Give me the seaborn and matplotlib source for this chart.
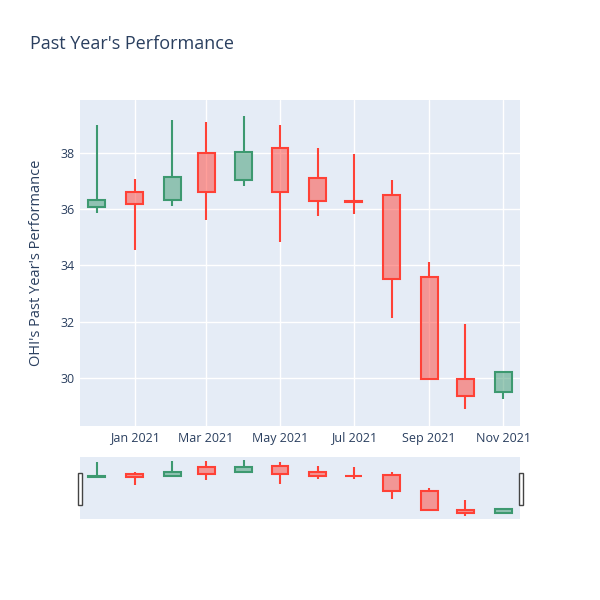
import pandas as pd
import numpy as np
import matplotlib
matplotlib.use("Agg")
import matplotlib.pyplot as plt
import matplotlib.dates as mdates
from matplotlib.patches import Rectangle
import seaborn as sns

# Datos mensuales (OHLC)
fechas = ["2020-12-01", "2021-01-01", "2021-02-01", "2021-03-01", "2021-04-01", "2021-05-01",
          "2021-06-01", "2021-07-01", "2021-08-01", "2021-09-01", "2021-10-01", "2021-11-01"]
apertura = [36.06, 36.62, 36.32, 37.98, 37.05, 38.16, 37.12, 36.30, 36.49, 33.58, 29.96, 29.49]
maximo = [38.99, 37.07, 39.17, 39.09, 39.31, 38.99, 38.18, 37.96, 37.03, 34.11, 31.91, 30.26]
minimo = [35.87, 34.56, 36.12, 35.61, 36.83, 34.82, 35.75, 35.81, 32.12, 29.93, 28.89, 29.25]
cierre = [36.32, 36.20, 37.13, 36.61, 38.02, 36.61, 36.29, 36.27, 33.51, 29.95, 29.34, 30.22]

df = pd.DataFrame({"fecha": pd.to_datetime(fechas), "open": apertura, "high": maximo,
                   "low": minimo, "close": cierre})

verde = "#3D9970"
rojo = "#FF4136"
texto = "#2a3f5f"

sns.set_theme(style="darkgrid", rc={"axes.facecolor": "#E5ECF6", "grid.color": "white",
                                     "grid.linewidth": 1.0, "xtick.color": texto,
                                     "ytick.color": texto, "axes.labelcolor": texto,
                                     "axes.edgecolor": "#E5ECF6"})
plt.rcParams['font.family'] = ['Open Sans', 'DejaVu Sans']

fig = plt.figure(figsize=(6, 6), dpi=100)
ax = fig.add_axes([80 / 600, 174 / 600, 440 / 600, 326 / 600])
ax_rs = fig.add_axes([80 / 600, 81 / 600, 440 / 600, 62 / 600])

ancho = 14  # dias


def dibujar_velas(eje, lw_caja, lw_mecha):
    for _, fila in df.iterrows():
        color = verde if fila["close"] >= fila["open"] else rojo
        x = mdates.date2num(fila["fecha"])
        arriba = max(fila["open"], fila["close"])
        abajo = min(fila["open"], fila["close"])
        eje.plot([x, x], [fila["low"], abajo], color=color, lw=lw_mecha, solid_capstyle="butt", zorder=3)
        eje.plot([x, x], [arriba, fila["high"]], color=color, lw=lw_mecha, solid_capstyle="butt", zorder=3)
        eje.bar(x, arriba - abajo, bottom=abajo, width=ancho, facecolor=color, alpha=0.5,
                edgecolor="none", zorder=2)
        eje.bar(x, arriba - abajo, bottom=abajo, width=ancho, facecolor="none",
                edgecolor=color, linewidth=lw_caja, zorder=3)


dibujar_velas(ax, 1.5, 1.5)
dibujar_velas(ax_rs, 1.5, 1.5)

x0 = mdates.date2num(df["fecha"].min()) - 14
x1 = mdates.date2num(df["fecha"].max()) + 14
rango = df["high"].max() - df["low"].min()
ymin = df["low"].min() - 0.058 * rango
ymax = df["high"].max() + 0.055 * rango

for eje in (ax, ax_rs):
    eje.set_xlim(x0, x1)
    eje.set_ylim(ymin, ymax)
    for s in eje.spines.values():
        s.set_visible(False)

ax.set_xticks(mdates.date2num(pd.to_datetime(["2021-01-01", "2021-03-01", "2021-05-01",
                                               "2021-07-01", "2021-09-01", "2021-11-01"])))
ax.xaxis.set_major_formatter(mdates.DateFormatter("%b %Y"))
ax.set_yticks([30, 32, 34, 36, 38])
ax.tick_params(axis="both", length=0, labelsize=9, pad=4)
ax.set_ylabel("OHI's Past Year's Performance", fontsize=10.5, labelpad=12)

ax_rs.set_xticks([])
ax_rs.set_yticks([])
ax_rs.grid(False)

# manijas del rangeslider
for xf in (77.5 / 600, 518.5 / 600):
    fig.patches.append(Rectangle((xf, 95 / 600), 4 / 600, 32 / 600, transform=fig.transFigure,
                                 facecolor="white", edgecolor="#444444", linewidth=1, zorder=5))

fig.text(30 / 600, 1 - 44 / 600, "Past Year's Performance", fontsize=13, color=texto,
         ha="left", va="center")

fig.savefig("out.png", dpi=100)
